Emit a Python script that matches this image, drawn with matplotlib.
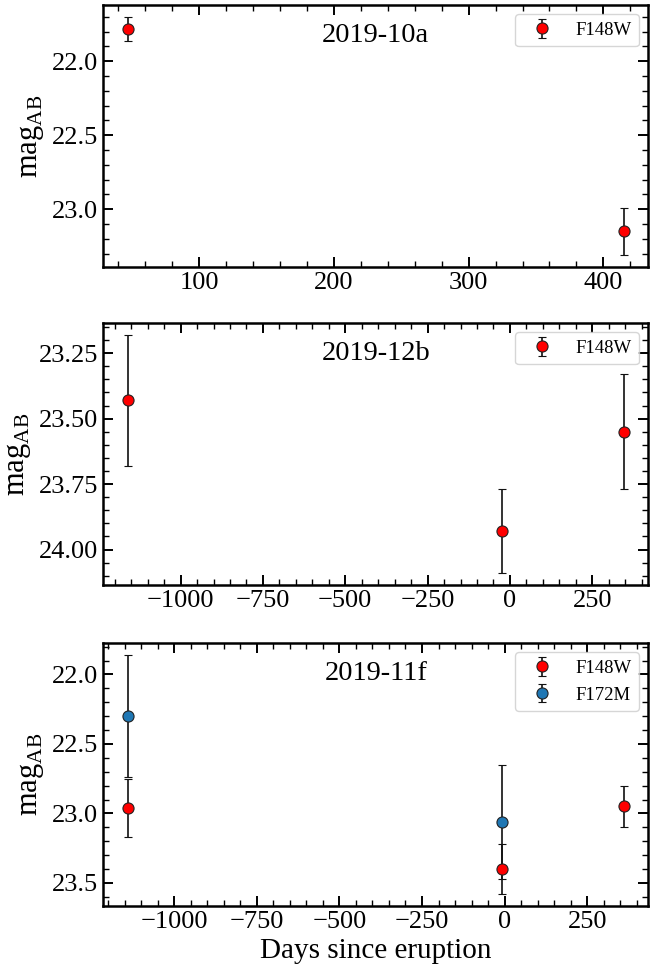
import numpy as np
import matplotlib
matplotlib.use("Agg")
import matplotlib.pyplot as plt
from matplotlib.ticker import AutoMinorLocator, MultipleLocator, ScalarFormatter

plt.rcParams['font.family'] = ['Liberation Serif', 'DejaVu Serif']
plt.rcParams['mathtext.fontset'] = 'custom'
plt.rcParams['mathtext.rm'] = 'Liberation Serif'

# 2019-10a
days_10a = [47, 415]
mag_10a = [21.78, 23.15]
err_10a = [0.08, 0.16]

# 2019-12b
days_12b = [-1160, -23, 345]
mag_12b = [23.43, 23.93, 23.55]
err_12b = [0.25, 0.16, 0.22]

# 2019-11f
days_11f_148 = [-1140, -7, 360]
mag_11f_148 = [22.96, 23.40, 22.95]
err_11f_148 = [0.21, 0.18, 0.15]
days_11f_172 = [-1140, -7]
mag_11f_172 = [22.30, 23.06]
err_11f_172 = [0.44, 0.41]

panels = [
    ("2019-10a", [("F148W", days_10a, mag_10a, err_10a, "red")], 0.5, 100),
    ("2019-12b", [("F148W", days_12b, mag_12b, err_12b, "red")], 0.25, 250),
    ("2019-11f", [("F148W", days_11f_148, mag_11f_148, err_11f_148, "red"),
                  ("F172M", days_11f_172, mag_11f_172, err_11f_172, "#1f77b4")], 0.5, 250),
]

fig = plt.figure(figsize=(6.65, 9.69), dpi=100)
bottoms = [0.7245, 0.3963, 0.065]
heights = [0.2704, 0.2704, 0.2714]

for (name, series, ystep, xstep), b, h in zip(panels, bottoms, heights):
    ax = fig.add_axes([0.155, b, 0.820, h])
    for label, x, y, e, c in series:
        ax.errorbar(x, y, yerr=e, fmt='o', color=c, mec='#222222', mew=0.8,
                    ms=8, ecolor='#111111', elinewidth=1.2, capsize=3,
                    capthick=1.2, label=label)
    ax.invert_yaxis()
    ax.yaxis.set_major_locator(MultipleLocator(ystep))
    ax.xaxis.set_major_locator(MultipleLocator(xstep))
    ax.xaxis.set_minor_locator(AutoMinorLocator(5))
    ax.yaxis.set_minor_locator(AutoMinorLocator(5))
    fmt = ScalarFormatter(useOffset=False)
    ax.yaxis.set_major_formatter(fmt)
    ax.tick_params(which='both', direction='in', top=True, right=True,
                   labelsize=19)
    ax.tick_params(which='major', length=7, width=1.4)
    ax.tick_params(which='minor', length=4, width=1.0)
    for s in ax.spines.values():
        s.set_linewidth(1.8)
    ax.set_ylabel(r'mag$_{\rm AB}$', fontsize=22)
    ax.text(0.5, 0.885, name, transform=ax.transAxes, ha='center',
            va='center', fontsize=20.5)
    ax.legend(loc='upper right', fontsize=13.5)

ax.set_xlabel('Days since eruption', fontsize=21)

fig.savefig('out.png', dpi=100)
